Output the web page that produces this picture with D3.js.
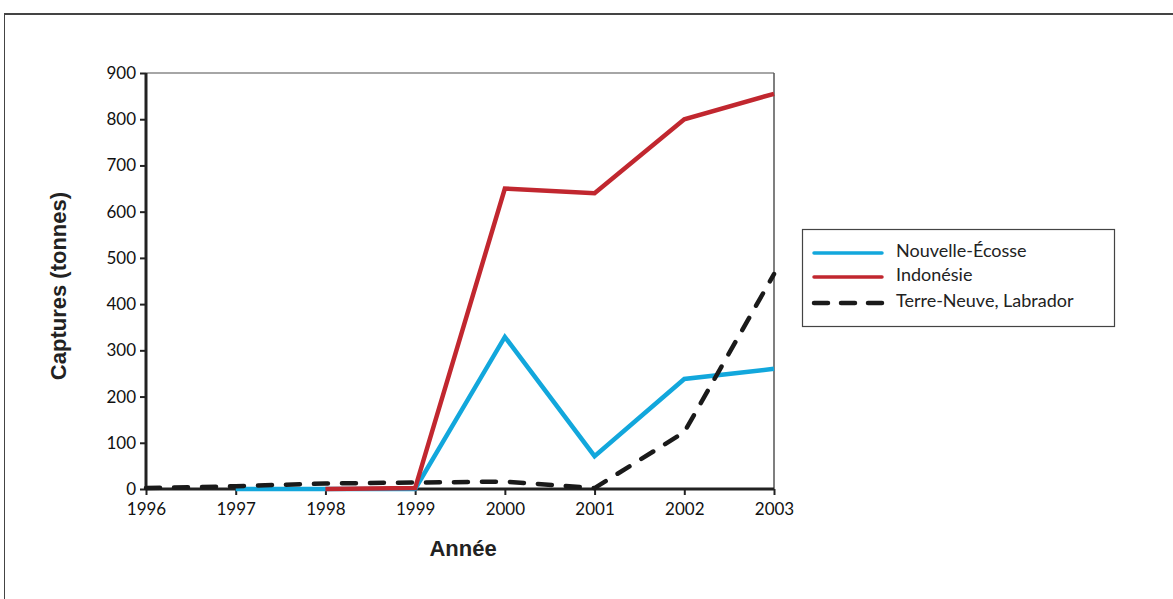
<!DOCTYPE html>
<html><head><meta charset="utf-8">
<script src="https://cdn.jsdelivr.net/npm/d3@7"></script>
<style>body{margin:0;background:#fff}</style>
</head><body><svg id="c" width="1173" height="599"></svg>
<script>
const years = [1996,1997,1998,1999,2000,2001,2002,2003];
const nouvelleEcosse = [null,0,0,0,329,71,238,260];
const indonesie = [null,null,0,2,650,640,800,855];
const terreNeuve = [2,6,12,14,16,2,123,465];
const yTicks = [0,100,200,300,400,500,600,700,800,900];
const seriesNames = ["Nouvelle-Écosse","Indonésie","Terre-Neuve, Labrador"];

const svg = d3.select("#c");
// outer frame
svg.append("line").attr("x1",4).attr("x2",1173).attr("y1",14).attr("y2",14).attr("stroke","#444").attr("stroke-width",2);
svg.append("line").attr("x1",4.5).attr("x2",4.5).attr("y1",14).attr("y2",599).attr("stroke","#444").attr("stroke-width",1);

const x = d3.scaleLinear().domain([1996,2003]).range([146,774]);
const y = d3.scaleLinear().domain([0,900]).range([489,73]);

// plot frame top/right
svg.append("line").attr("x1",146).attr("x2",774).attr("y1",73).attr("y2",73).attr("stroke","#888").attr("stroke-width",1.5);
svg.append("line").attr("x1",774).attr("x2",774).attr("y1",73).attr("y2",489).attr("stroke","#555").attr("stroke-width",1.5);

const xAxis = svg.append("g").attr("transform","translate(0,489)")
  .call(d3.axisBottom(x).tickValues(years).tickFormat(d3.format("d")).tickSize(6).tickPadding(8));
const yAxis = svg.append("g").attr("transform","translate(146,0)")
  .call(d3.axisLeft(y).tickValues(yTicks).tickSize(6).tickPadding(4));
[xAxis,yAxis].forEach(a=>{
  a.select(".domain").attr("stroke","#222").attr("stroke-width",3);
  a.selectAll(".tick line").attr("stroke","#222").attr("stroke-width",2);
  a.selectAll(".tick text").style("font-size","17px").style("fill","#111").style("font-family","Lato, sans-serif");
});
xAxis.select(".domain").attr("d","M146,0H774");
yAxis.select(".domain").attr("d","M0,73V489");

const line = arr => d3.line().defined((d,i)=>arr[i]!==null).x((d,i)=>x(years[i])).y((d,i)=>y(arr[i]))(arr);
const blue="#12a7dc", red="#c1272f", black="#1a1a1a";
svg.append("path").attr("d",line(nouvelleEcosse)).attr("fill","none").attr("stroke",blue).attr("stroke-width",4.5).attr("stroke-linejoin","miter");
svg.append("path").attr("d",line(indonesie)).attr("fill","none").attr("stroke",red).attr("stroke-width",4.5);
svg.append("path").attr("d",line(terreNeuve)).attr("fill","none").attr("stroke",black).attr("stroke-width",4.5)
  .attr("stroke-dasharray","14,14").attr("stroke-linecap","round");

// axis titles
const titleFont="'Liberation Sans Narrow','Liberation Sans',Arial,sans-serif";
svg.append("text").attr("x",463).attr("y",556).attr("text-anchor","middle")
  .style("font-weight","bold").style("font-size","22px").style("font-family",titleFont).style("fill","#222").text("Année");
svg.append("text").attr("transform","translate(66,286) rotate(-90)").attr("text-anchor","middle")
  .style("font-weight","bold").style("font-size","22px").style("font-family",titleFont).style("fill","#222").text("Captures (tonnes)");

// legend
const lg = svg.append("g");
lg.append("rect").attr("x",802.5).attr("y",229.5).attr("width",312).attr("height",97).attr("fill","#fff").attr("stroke","#444").attr("stroke-width",1.2);
const styles=[{c:blue,d:null},{c:red,d:null},{c:black,d:"14,13"}];
const rowsY=[251,275,301];
seriesNames.forEach((n,i)=>{
  const l=lg.append("line").attr("x1",814).attr("x2",882).attr("y1",rowsY[i]+2).attr("y2",rowsY[i]+2)
    .attr("stroke",styles[i].c).attr("stroke-width",i==2?4.5:3.5).attr("stroke-linecap","round");
  if(styles[i].d) l.attr("stroke-dasharray",styles[i].d);
  lg.append("text").attr("x",896).attr("y",rowsY[i]+6).style("font-size","18px").style("font-family","Lato, sans-serif").style("fill","#222").text(n);
});
</script></body></html>
